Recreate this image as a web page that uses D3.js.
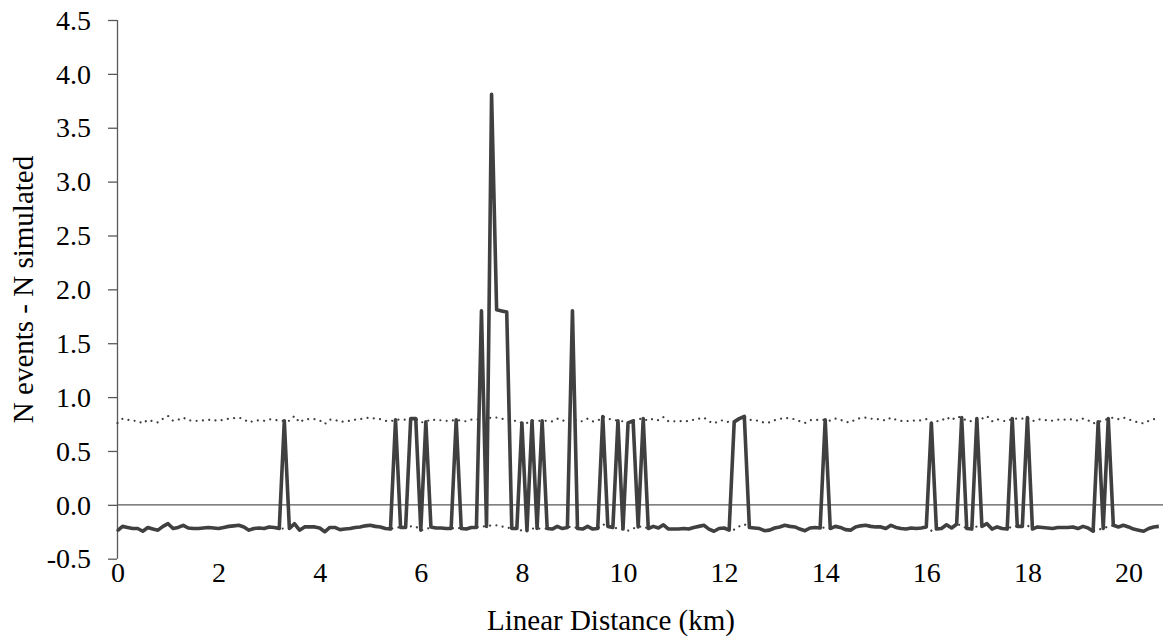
<!DOCTYPE html>
<meta charset="utf-8">
<style>
body { margin: 0; background: white; }
</style>
<body>
<script src="https://cdnjs.cloudflare.com/ajax/libs/d3/7.8.5/d3.min.js"></script>
<script>
// distance along the transect, one sample every 0.1 km
var distanceKm = d3.range(207).map(function (i) { return +(i * 0.1).toFixed(1) })

// N events - N simulated
var difference = [
  -0.24, -0.20, -0.21, -0.22, -0.22, -0.245, -0.21, -0.225, -0.235, -0.20,
  -0.175, -0.22, -0.21, -0.19, -0.215, -0.22, -0.22, -0.215, -0.21, -0.215,
  -0.22, -0.21, -0.20, -0.195, -0.19, -0.205, -0.235, -0.22, -0.215, -0.22,
  -0.205, -0.21, -0.22, 0.78, -0.22, -0.175, -0.235, -0.205, -0.205, -0.205,
  -0.215, -0.25, -0.21, -0.21, -0.23, -0.225, -0.22, -0.21, -0.205, -0.195,
  -0.19, -0.20, -0.205, -0.22, -0.225, 0.79, -0.21, -0.21, 0.80, 0.80,
  -0.235, 0.77, -0.205, -0.215, -0.215, -0.22, -0.22, 0.79, -0.22, -0.225,
  -0.21, -0.21, 1.80, -0.20, 3.81, 1.81, 1.80, 1.79, -0.22, -0.22,
  0.76, -0.24, 0.78, -0.22, 0.78, -0.22, -0.225, -0.20, -0.22, -0.21,
  1.80, -0.22, -0.225, -0.20, -0.225, -0.22, 0.82, -0.20, -0.21, 0.78,
  -0.225, 0.76, 0.78, -0.205, 0.80, -0.22, -0.20, -0.215, -0.185, -0.225,
  -0.225, -0.225, -0.22, -0.225, -0.21, -0.20, -0.19, -0.225, -0.245, -0.22,
  -0.215, -0.235, 0.77, 0.80, 0.82, -0.21, -0.215, -0.22, -0.24, -0.235,
  -0.215, -0.205, -0.19, -0.20, -0.205, -0.225, -0.24, -0.215, -0.21, -0.215,
  0.79, -0.22, -0.20, -0.21, -0.23, -0.235, -0.205, -0.195, -0.19, -0.20,
  -0.205, -0.205, -0.22, -0.19, -0.21, -0.22, -0.225, -0.215, -0.22, -0.215,
  -0.205, 0.76, -0.225, -0.22, -0.185, -0.215, -0.18, 0.81, -0.22, -0.225,
  0.80, -0.20, -0.175, -0.225, -0.205, -0.22, -0.225, 0.80, -0.20, -0.20,
  0.81, -0.225, -0.205, -0.21, -0.215, -0.22, -0.21, -0.21, -0.21, -0.205,
  -0.22, -0.20, -0.215, -0.245, 0.77, -0.22, 0.80, -0.19, -0.205, -0.19,
  -0.205, -0.225, -0.235, -0.245, -0.22, -0.205, -0.20
]

// upper envelope (dotted)
var upperBound = [
  0.76, 0.80, 0.79, 0.78, 0.78, 0.755, 0.79, 0.775, 0.765, 0.80,
  0.825, 0.78, 0.79, 0.81, 0.785, 0.78, 0.78, 0.785, 0.79, 0.785,
  0.78, 0.79, 0.80, 0.805, 0.81, 0.795, 0.765, 0.78, 0.785, 0.78,
  0.795, 0.79, 0.78, 0.78, 0.78, 0.825, 0.765, 0.795, 0.795, 0.795,
  0.785, 0.75, 0.79, 0.79, 0.77, 0.775, 0.78, 0.79, 0.795, 0.805,
  0.81, 0.80, 0.795, 0.78, 0.775, 0.79, 0.79, 0.79, 0.80, 0.80,
  0.765, 0.77, 0.795, 0.785, 0.785, 0.78, 0.78, 0.79, 0.78, 0.775,
  0.79, 0.79, 0.80, 0.80, 0.81, 0.81, 0.80, 0.79, 0.78, 0.78,
  0.76, 0.76, 0.78, 0.78, 0.78, 0.78, 0.775, 0.80, 0.78, 0.79,
  0.80, 0.78, 0.775, 0.80, 0.775, 0.78, 0.82, 0.80, 0.79, 0.78,
  0.775, 0.76, 0.78, 0.795, 0.80, 0.78, 0.80, 0.785, 0.815, 0.775,
  0.775, 0.775, 0.78, 0.775, 0.79, 0.80, 0.81, 0.775, 0.755, 0.78,
  0.785, 0.765, 0.77, 0.80, 0.82, 0.79, 0.785, 0.78, 0.76, 0.765,
  0.785, 0.795, 0.81, 0.80, 0.795, 0.775, 0.76, 0.785, 0.79, 0.785,
  0.79, 0.78, 0.80, 0.79, 0.77, 0.765, 0.795, 0.805, 0.81, 0.80,
  0.795, 0.795, 0.78, 0.81, 0.79, 0.78, 0.775, 0.785, 0.78, 0.785,
  0.795, 0.76, 0.775, 0.78, 0.815, 0.785, 0.82, 0.81, 0.78, 0.775,
  0.80, 0.80, 0.825, 0.775, 0.795, 0.78, 0.775, 0.80, 0.80, 0.80,
  0.81, 0.775, 0.795, 0.79, 0.785, 0.78, 0.79, 0.79, 0.79, 0.795,
  0.78, 0.80, 0.785, 0.755, 0.77, 0.78, 0.80, 0.81, 0.795, 0.81,
  0.795, 0.775, 0.765, 0.755, 0.78, 0.795, 0.80
]

// lower envelope (dotted)
var lowerBound = [
  -0.24, -0.20, -0.21, -0.22, -0.22, -0.245, -0.21, -0.225, -0.235, -0.20,
  -0.175, -0.22, -0.21, -0.19, -0.215, -0.22, -0.22, -0.215, -0.21, -0.215,
  -0.22, -0.21, -0.20, -0.195, -0.19, -0.205, -0.235, -0.22, -0.215, -0.22,
  -0.205, -0.21, -0.22, -0.22, -0.22, -0.175, -0.235, -0.205, -0.205, -0.205,
  -0.215, -0.25, -0.21, -0.21, -0.23, -0.225, -0.22, -0.21, -0.205, -0.195,
  -0.19, -0.20, -0.205, -0.22, -0.225, -0.21, -0.21, -0.21, -0.20, -0.20,
  -0.235, -0.23, -0.205, -0.215, -0.215, -0.22, -0.22, -0.21, -0.22, -0.225,
  -0.21, -0.21, -0.20, -0.20, -0.19, -0.19, -0.20, -0.21, -0.22, -0.22,
  -0.24, -0.24, -0.22, -0.22, -0.22, -0.22, -0.225, -0.20, -0.22, -0.21,
  -0.20, -0.22, -0.225, -0.20, -0.225, -0.22, -0.18, -0.20, -0.21, -0.22,
  -0.225, -0.24, -0.22, -0.205, -0.20, -0.22, -0.20, -0.215, -0.185, -0.225,
  -0.225, -0.225, -0.22, -0.225, -0.21, -0.20, -0.19, -0.225, -0.245, -0.22,
  -0.215, -0.235, -0.23, -0.20, -0.18, -0.21, -0.215, -0.22, -0.24, -0.235,
  -0.215, -0.205, -0.19, -0.20, -0.205, -0.225, -0.24, -0.215, -0.21, -0.215,
  -0.21, -0.22, -0.20, -0.21, -0.23, -0.235, -0.205, -0.195, -0.19, -0.20,
  -0.205, -0.205, -0.22, -0.19, -0.21, -0.22, -0.225, -0.215, -0.22, -0.215,
  -0.205, -0.24, -0.225, -0.22, -0.185, -0.215, -0.18, -0.19, -0.22, -0.225,
  -0.20, -0.20, -0.175, -0.225, -0.205, -0.22, -0.225, -0.20, -0.20, -0.20,
  -0.19, -0.225, -0.205, -0.21, -0.215, -0.22, -0.21, -0.21, -0.21, -0.205,
  -0.22, -0.20, -0.215, -0.245, -0.23, -0.22, -0.20, -0.19, -0.205, -0.19,
  -0.205, -0.225, -0.235, -0.245, -0.22, -0.205, -0.20
]

var yTicks = [-0.5, 0, 0.5, 1, 1.5, 2, 2.5, 3, 3.5, 4, 4.5]
var xTicks = [0, 2, 4, 6, 8, 10, 12, 14, 16, 18, 20]

var width = 1166
var height = 639
var plotLeft = 117
var plotRight = 1163
var serif = "'Liberation Serif', 'Times New Roman', serif"

var x = d3.scaleLinear().domain([0, 20]).range([117.5, 1128.5])
var y = d3.scaleLinear().domain([-0.5, 4.5]).range([558.7, 20])

var svg = d3.select('body')
    .append('svg')
    .attr('width', width)
    .attr('height', height)

// y axis
var yAxis = svg.append('g')
    .attr('transform', 'translate(' + plotLeft + ',0)')
    .call(d3.axisLeft(y)
        .tickValues(yTicks)
        .tickSize(9)
        .tickPadding(17)
        .tickFormat(function (d) { return d.toFixed(1) }))

yAxis.selectAll('path, line').attr('stroke', '#595959').attr('stroke-width', 1.3)
yAxis.select('.domain').attr('d', 'M0.5,' + y(4.5) + 'V' + y(-0.5))
yAxis.selectAll('text')
    .style('font-family', serif)
    .style('font-size', '28px')
    .attr('fill', 'black')
    .attr('dy', '0.33em')

// x axis labels sit at the bottom, axis line crosses at zero
var xAxis = svg.append('g')
    .attr('transform', 'translate(0,' + y(-0.5) + ')')
    .call(d3.axisBottom(x).tickValues(xTicks).tickSize(0).tickPadding(0))

xAxis.select('.domain').remove()
xAxis.selectAll('text')
    .style('font-family', serif)
    .style('font-size', '28px')
    .attr('fill', 'black')
    .attr('y', 23)
    .attr('dy', null)

svg.append('line')
    .attr('x1', plotLeft)
    .attr('x2', plotRight)
    .attr('y1', y(0))
    .attr('y2', y(0))
    .attr('stroke', '#595959')
    .attr('stroke-width', 1.3)

var line = function (values) {
    return d3.line()
        .x(function (d, i) { return x(distanceKm[i]) })
        .y(function (d) { return y(d) })(values)
}

;[upperBound, lowerBound].forEach(function (values) {
    svg.append('path')
        .attr('d', line(values))
        .attr('fill', 'none')
        .attr('stroke', '#404040')
        .attr('stroke-width', 2.2)
        .attr('stroke-linecap', 'round')
        .attr('stroke-dasharray', '0.01 6.3')
})

svg.append('path')
    .attr('d', line(difference))
    .attr('fill', 'none')
    .attr('stroke', '#404040')
    .attr('stroke-width', 3.6)
    .attr('stroke-linejoin', 'round')

// titles
svg.append('text')
    .attr('x', 611)
    .attr('y', 630)
    .attr('text-anchor', 'middle')
    .style('font-family', serif)
    .style('font-size', '29px')
    .text('Linear Distance (km)')

svg.append('text')
    .attr('transform', 'translate(33,289.5) rotate(-90)')
    .attr('text-anchor', 'middle')
    .style('font-family', serif)
    .style('font-size', '29px')
    .text('N events - N simulated')
</script>
</body>
